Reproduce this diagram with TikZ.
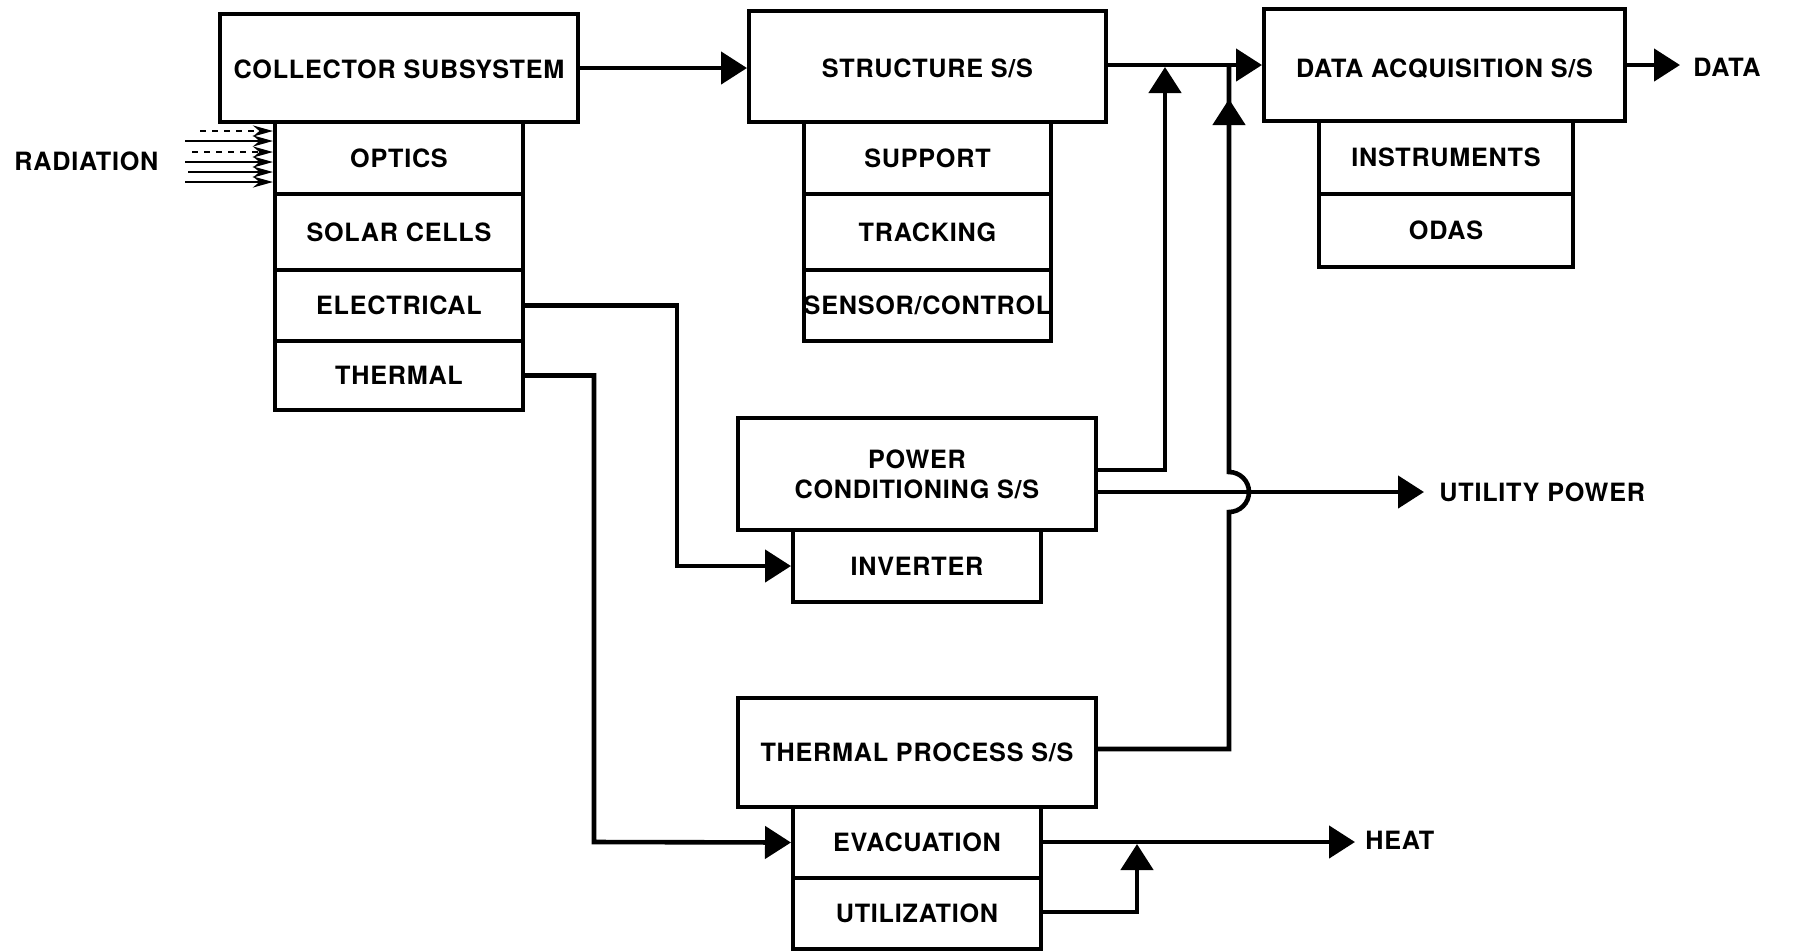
\documentclass[tikz,border=0pt]{standalone}
\usepackage{fontspec}
\setmainfont{TeX Gyre Heros}[LetterSpace=3]
\usetikzlibrary{arrows.meta}

\tikzset{
  blk/.style={draw, line width=2pt, inner sep=0pt, align=center,
    font=\bfseries\fontsize{12.6}{15}\selectfont},
  lbl/.style={inner sep=0pt, anchor=west, font=\bfseries\fontsize{12.6}{15}\selectfont},
  wire/.style={line width=2.3pt, line join=miter},
  arr/.style={wire, -{Triangle[length=13pt, width=16pt]}},
  ray/.style={line width=1.4pt, -{Stealth[length=10pt, width=5.5pt]}},
}
% lower a title a little inside its box without changing the box
\newcommand{\lowered}[2]{\raisebox{-#1}[\height][\depth]{#2}}

\begin{document}
\begin{tikzpicture}[x=0.5pt, y=-0.5pt]
\useasboundingbox (0,0) rectangle (1794,950);

% ---- collector subsystem ----
\node[blk, minimum width=179pt, minimum height=54pt] (coll) at (399,68) {\lowered{0.6pt}{COLLECTOR SUBSYSTEM}};
\node[blk, minimum width=124pt, minimum height=36pt] (optics) at (399,158) {OPTICS};
\node[blk, minimum width=124pt, minimum height=38pt] (solar) at (399,232) {SOLAR CELLS};
\node[blk, minimum width=124pt, minimum height=35.5pt] (elec) at (399,305.5) {ELECTRICAL};
\node[blk, minimum width=124pt, minimum height=34.5pt] (therm) at (399,375.5) {THERMAL};

% ---- structure subsystem ----
\node[blk, minimum width=178.5pt, minimum height=55.5pt] (struct) at (927.5,66.5) {\lowered{1.1pt}{STRUCTURE S/S}};
\node[blk, minimum width=123.5pt, minimum height=36pt] (supp) at (927.5,158) {SUPPORT};
\node[blk, minimum width=123.5pt, minimum height=38pt] (track) at (927.5,232) {TRACKING};
% the label is a little wider than its box and runs over the edge
\node[blk, minimum width=123.5pt, minimum height=35.5pt] (sens) at (927.5,305.5) {\makebox[0pt]{SENSOR/CONTROL}};

% ---- data acquisition subsystem ----
\node[blk, minimum width=180.5pt, minimum height=56pt] (data) at (1444.5,65) {\lowered{1.7pt}{DATA ACQUISITION S/S}};
\node[blk, minimum width=127pt, minimum height=36.5pt] (instr) at (1446,157.5) {INSTRUMENTS};
\node[blk, minimum width=127pt, minimum height=36.5pt] (odas) at (1446,230.5) {ODAS};

% ---- power conditioning ----
\node[blk, minimum width=179pt, minimum height=56pt] (pcs) at (917,474) {POWER\\CONDITIONING S/S};
\node[blk, minimum width=124pt, minimum height=36pt] (inv) at (917,566) {INVERTER};

% ---- thermal process ----
\node[blk, minimum width=179pt, minimum height=54.5pt] (tps) at (917,752.5) {THERMAL PROCESS S/S};
\node[blk, minimum width=124pt, minimum height=35.5pt] (evac) at (917,842.5) {EVACUATION};
\node[blk, minimum width=124pt, minimum height=35.5pt] (util) at (917,913.5) {UTILIZATION};

% ---- outside labels ----
\node[lbl] (rad) at (14,161) {RADIATION};
\node[lbl] (dataout) at (1693,67) {DATA};
\node[lbl] (utilpow) at (1439,492) {UTILITY POWER};
\node[lbl] (heat) at (1365,840) {HEAT};

% ---- bend points and free ends ----
\coordinate (pcsbend) at (1165,470);
\coordinate (pcstop) at (1165,67);
\coordinate (tpsbend) at (1229,749);
\coordinate (humplow) at (1229,512);
\coordinate (humphigh) at (1229,472);
\coordinate (bus) at (1229,65);
\coordinate (elecbend) at (677,566);
\coordinate (thermbend) at (594,842);
\coordinate (utilbend) at (1137,912);
\coordinate (heatjoin) at (1137,844);
\coordinate (heattip) at (1355,842);
\coordinate (powtip) at (1424,492);
\coordinate (datatip) at (1680,65);

% ---- connectors ----
\draw[arr] (coll.east |- 0,68) -- (struct.west |- 0,68);
\draw[arr] (struct.east |- data.west) -- (data.west);
\draw[arr] (data.east) -- (datatip);

\draw[arr] (pcs.east |- pcsbend) -- (pcsbend) -- (pcstop);
\draw[arr] (pcs.east |- powtip) -- (powtip);

\draw[wire] (tps.east |- tpsbend) -- (tpsbend) -- (humplow)
  arc[start angle=-90, end angle=90, radius=10pt] -- (bus);
\draw[arr] (1229,140) -- (1229,99);

\draw[arr] (elec.east) -| (elecbend) -- (inv.west);
\draw[arr] (therm.east) -| (thermbend) -- (evac.west);

\draw[arr] (evac.east |- heattip) -- (heattip);
\draw[arr] (util.east |- utilbend) -- (utilbend) -- (heatjoin);

% ---- incoming radiation ----
\foreach \xs/\yy/\sty in {200/131/dashed, 185/141/solid, 192/152/dashed, 185/162/solid, 188/172/solid, 185/182/solid}
  \draw[ray, \sty] (\xs,\yy) -- (optics.west |- 0,\yy);
\end{tikzpicture}
\end{document}
